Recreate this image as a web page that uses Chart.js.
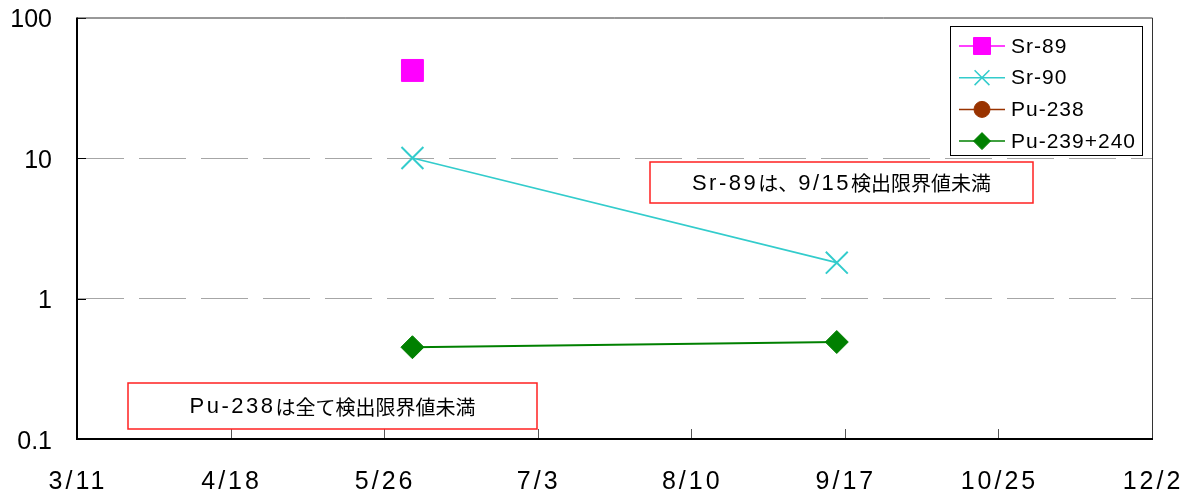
<!DOCTYPE html>
<html lang="ja">
<head>
<meta charset="utf-8">
<title>Sr-89 / Sr-90 / Pu</title>
<script src="https://cdn.jsdelivr.net/npm/chart.js@4.4.1/dist/chart.umd.min.js"></script>
<style>
    html, body { margin: 0; padding: 0; background: #ffffff; }
    #wrap { position: relative; width: 1194px; height: 504px; }
</style>
</head>
<body>
<div id="wrap"><canvas id="nuclideChart"></canvas></div>
<script>
// データ
const baseDate = '3/11';
const xTickLabels = ['3/11', '4/18', '5/26', '7/3', '8/10', '9/17', '10/25', '12/2'];
const yTickValues = [0.1, 1, 10, 100];
const sampleDates = ['6/2', '9/15'];
const seriesNames = ['Sr-89', 'Sr-90', 'Pu-238', 'Pu-239+240'];
const sr89 = [42, null];      // 9/15 は検出限界値未満
const sr90 = [10, 1.8];
const pu238 = [null, null];   // 全て検出限界値未満
const pu239240 = [0.45, 0.49];
const notes = ['Sr-89は、9/15検出限界値未満', 'Pu-238は全て検出限界値未満'];

const LATIN_FONT = '"Liberation Sans", Arial, sans-serif';
const CJK_FONT = '"Noto Sans CJK JP", sans-serif';

// 3/11 からの経過日数
function dayOf(md) {
    const [m, d] = md.split('/').map(Number);
    const [m0, d0] = baseDate.split('/').map(Number);
    return (Date.UTC(2011, m - 1, d) - Date.UTC(2011, m0 - 1, d0)) / 86400000;
}

function toPoints(values) {
    return sampleDates.map((md, i) => ({ x: dayOf(md), y: values[i] }));
}

// 英数字と日本語を分けて描く（英数字は字間を少し広めに）
function drawMixed(ctx, text, cx, cy) {
    const parts = [...text].map(ch => {
        const latin = ch.charCodeAt(0) < 0x2000;
        const font = latin ? '22px ' + LATIN_FONT : '20px ' + CJK_FONT;
        ctx.font = font;
        return { ch, font, w: ctx.measureText(ch).width + (latin ? 2.5 : 0) };
    });
    const total = parts.reduce((s, p) => s + p.w, 0);
    let x = cx - total / 2;
    ctx.textAlign = 'left';
    ctx.textBaseline = 'middle';
    parts.forEach(p => {
        ctx.font = p.font;
        ctx.fillText(p.ch, x, cy);
        x += p.w;
    });
}

document.addEventListener('DOMContentLoaded', function() {

    const ctx = document.getElementById('nuclideChart').getContext('2d');

    const data = {
        datasets: [
            {
                label: seriesNames[0],
                data: toPoints(sr89),
                borderColor: '#FF00FF',
                backgroundColor: '#FF00FF',
                borderWidth: 1.5,
                pointStyle: 'rect',
                pointRadius: 15.5,
                pointBorderWidth: 1
            },
            {
                label: seriesNames[1],
                data: toPoints(sr90),
                borderColor: '#33CCCC',
                backgroundColor: '#33CCCC',
                borderWidth: 1.6,
                pointStyle: 'crossRot',
                pointRadius: 15.5,
                pointBorderWidth: 2
            },
            {
                label: seriesNames[2],
                data: toPoints(pu238),
                borderColor: '#993300',
                backgroundColor: '#993300',
                borderWidth: 1.5,
                pointStyle: 'circle',
                pointRadius: 8,
                pointBorderWidth: 1
            },
            {
                label: seriesNames[3],
                data: toPoints(pu239240),
                borderColor: '#008000',
                backgroundColor: '#008000',
                borderWidth: 2,
                pointStyle: 'rectRot',
                pointRadius: 11.5,
                pointBorderWidth: 1
            }
        ]
    };

    // 凡例の見本マーカーの大きさ
    const legendRadius = [12, 10.5, 8, 8.5];

    // 枠線・内向きの目盛・凡例・注記を描くプラグイン
    const overlay = {
        id: 'overlay',
        afterDraw(chart) {
            const c = chart.ctx;
            const area = chart.chartArea;
            const xs = chart.scales.x;
            const ys = chart.scales.y;

            c.save();

            // x 軸の内向き目盛
            c.strokeStyle = '#555555';
            c.lineWidth = 1;
            xs.ticks.forEach(t => {
                const px = Math.round(xs.getPixelForValue(t.value)) + 0.5;
                c.beginPath();
                c.moveTo(px, area.bottom);
                c.lineTo(px, area.bottom - 10);
                c.stroke();
            });
            // y 軸の内向き目盛
            c.strokeStyle = '#000000';
            ys.ticks.forEach(t => {
                const py = Math.round(ys.getPixelForValue(t.value)) + 0.5;
                c.beginPath();
                c.moveTo(area.left, py);
                c.lineTo(area.left + 9, py);
                c.stroke();
            });

            // 枠線
            c.strokeStyle = '#333333';
            c.lineWidth = 1;
            c.beginPath();
            c.moveTo(area.left, area.top + 0.5);
            c.lineTo(area.right + 0.5, area.top + 0.5);
            c.lineTo(area.right + 0.5, area.bottom);
            c.stroke();
            c.strokeStyle = '#000000';
            c.lineWidth = 2;
            c.beginPath();
            c.moveTo(area.left, area.top);
            c.lineTo(area.left, area.bottom);
            c.lineTo(area.right + 1, area.bottom);
            c.stroke();

            // x 軸ラベル
            c.fillStyle = '#000000';
            c.font = '25px ' + LATIN_FONT;
            c.letterSpacing = '3px';
            c.textAlign = 'center';
            c.textBaseline = 'middle';
            xs.ticks.forEach((t, i) => {
                c.fillText(xTickLabels[i], xs.getPixelForValue(t.value) + 1, area.bottom + 43);
            });
            c.letterSpacing = '0px';

            // 凡例
            const lg = { left: 950, top: 26, right: 1142, bottom: 155 };
            c.fillStyle = '#ffffff';
            c.fillRect(lg.left, lg.top, lg.right - lg.left, lg.bottom - lg.top);
            c.strokeStyle = '#000000';
            c.lineWidth = 1;
            c.strokeRect(lg.left + 0.5, lg.top + 0.5, lg.right - lg.left, lg.bottom - lg.top);
            chart.data.datasets.forEach((ds, i) => {
                const y = lg.top + 20 + i * 31.7;
                c.strokeStyle = ds.borderColor;
                c.fillStyle = ds.backgroundColor;
                c.lineWidth = 1.5;
                c.beginPath();
                c.moveTo(959, y);
                c.lineTo(1005, y);
                c.stroke();
                c.lineWidth = ds.pointStyle === 'crossRot' ? 1.5 : 1;
                Chart.helpers.drawPoint(c, {
                    pointStyle: ds.pointStyle,
                    radius: legendRadius[i],
                    rotation: 0,
                    borderWidth: c.lineWidth
                }, 982, y);
                c.fillStyle = '#000000';
                c.font = '21px ' + LATIN_FONT;
                c.letterSpacing = '1px';
                c.textAlign = 'left';
                c.textBaseline = 'middle';
                c.fillText(ds.label, 1011, y + 1);
                c.letterSpacing = '0px';
            });

            // 注記ボックス
            const boxes = [
                { left: 650, top: 162, right: 1033, bottom: 203 },
                { left: 128, top: 383, right: 537, bottom: 429 }
            ];
            boxes.forEach((b, i) => {
                c.fillStyle = '#ffffff';
                c.fillRect(b.left, b.top, b.right - b.left, b.bottom - b.top);
                c.strokeStyle = '#FF2020';
                c.lineWidth = 1.5;
                c.strokeRect(b.left, b.top, b.right - b.left, b.bottom - b.top);
                c.fillStyle = '#000000';
                drawMixed(c, notes[i], (b.left + b.right) / 2, (b.top + b.bottom) / 2 + 1);
            });

            c.restore();
        }
    };

    new Chart(ctx, {
        type: 'line',
        data: data,
        options: {
            responsive: true,
            maintainAspectRatio: false,
            animation: false,
            events: [],
            layout: { padding: { top: 15, right: 42, left: 0, bottom: 0 } },
            plugins: {
                legend: { display: false },
                tooltip: { enabled: false }
            },
            scales: {
                x: {
                    type: 'linear',
                    min: 0,
                    max: dayOf(xTickLabels[xTickLabels.length - 1]),
                    afterBuildTicks: function(axis) {
                        axis.ticks = xTickLabels.map(l => ({ value: dayOf(l) }));
                    },
                    afterFit: function(scale) {
                        scale.height = 65;
                        scale.paddingLeft = 0;
                        scale.paddingRight = 0;
                    },
                    ticks: { display: false },
                    grid: { display: false },
                    border: { display: false }
                },
                y: {
                    type: 'logarithmic',
                    min: yTickValues[0],
                    max: yTickValues[yTickValues.length - 1],
                    afterBuildTicks: function(axis) {
                        axis.ticks = yTickValues.map(v => ({ value: v }));
                    },
                    afterFit: function(scale) {
                        scale.width = 77;
                        scale.paddingTop = 0;
                        scale.paddingBottom = 0;
                    },
                    ticks: {
                        padding: 25,
                        labelOffset: 3,
                        color: '#000000',
                        font: { family: LATIN_FONT, size: 25 },
                        callback: function(value) { return String(value); }
                    },
                    grid: {
                        drawTicks: false,
                        lineWidth: 1,
                        color: function(c) {
                            const v = c.tick && c.tick.value;
                            return (v === 1 || v === 10) ? '#A6A6A6' : 'rgba(0,0,0,0)';
                        }
                    },
                    border: { display: false, dash: [47, 15] }
                }
            }
        },
        plugins: [overlay]
    });
});
</script>
</body>
</html>
